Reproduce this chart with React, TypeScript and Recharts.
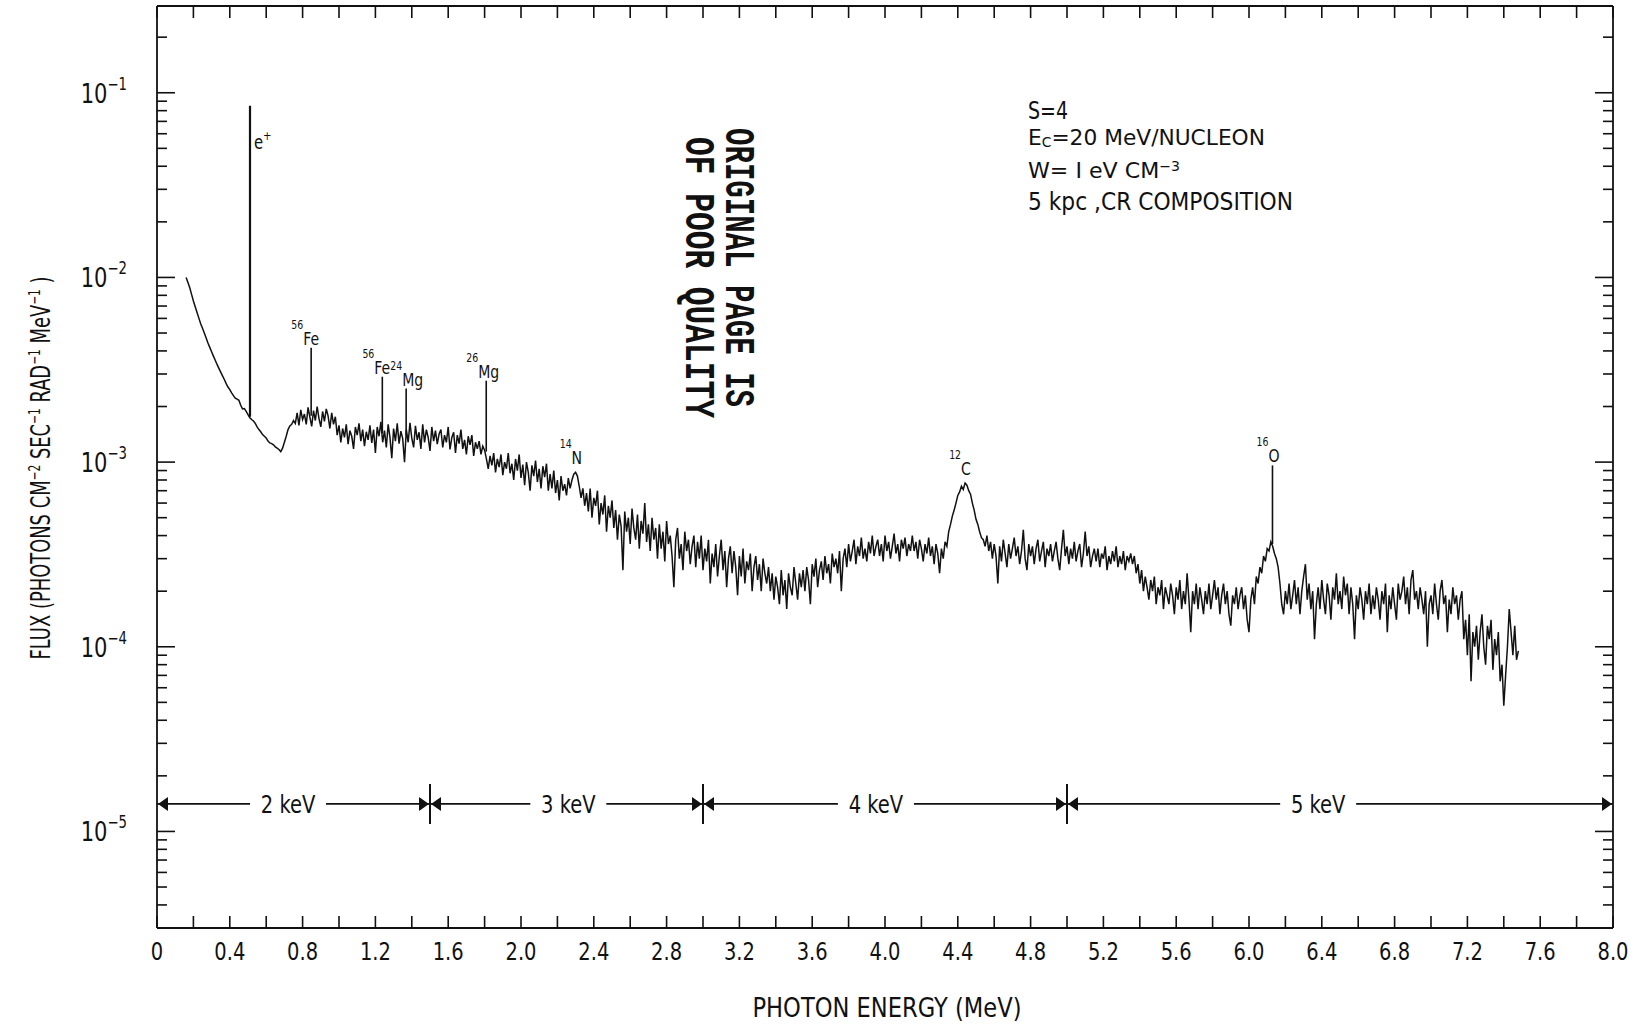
import React from "react";
import { LineChart, Line, XAxis, YAxis, ReferenceLine, ReferenceDot } from "recharts";

// channel grid of the continuum: first channel 0.16 MeV, 0.01 MeV apart
const E_START = 0.16;
const E_STEP = 0.01;

// continuum flux, in units of 1e-5 photons cm^-2 s^-1 rad^-1 MeV^-1
const continuum = [
  1000, 938, 880, 810, 745, 693, 645, 602, 562, 530, 500, 470, 442, 418, 396, 375, 356, 338, 322, 307, // 0.16
  293, 280, 266, 255, 247, 237, 229, 222, 219, 216, 203, 194, 195, 188, 181, 174, 170, 167, 162, 155, // 0.36
  150, 146, 141, 138, 135, 130, 127, 126, 124, 121, 119, 117, 114, 119, 128, 138, 150, 157, 160, 168, // 0.56
  162, 185, 158, 192, 170, 182, 160, 198, 175, 156, 190, 168, 200, 172, 155, 188, 166, 194, 178, 152, // 0.76
  185, 160, 176, 140, 158, 128, 152, 136, 160, 125, 148, 138, 118, 155, 140, 162, 130, 150, 122, 146, // 0.96
  132, 158, 127, 150, 112, 155, 138, 165, 128, 148, 120, 160, 136, 105, 152, 130, 162, 126, 147, 134, // 1.16
  100, 150, 128, 163, 135, 120, 157, 132, 145, 118, 160, 128, 150, 136, 115, 155, 130, 148, 125, 142, // 1.36
  150, 120, 140, 128, 155, 117, 136, 145, 112, 140, 126, 150, 118, 132, 110, 138, 124, 140, 108, 128, // 1.56
  118, 130, 110, 122, 116, 104, 92, 108, 96, 112, 88, 104, 94, 110, 85, 100, 92, 112, 87, 98, // 1.76
  80, 104, 90, 110, 82, 97, 75, 100, 88, 70, 96, 84, 102, 78, 92, 72, 95, 83, 98, 70, // 1.96
  86, 72, 90, 68, 80, 62, 84, 70, 76, 66, 82, 72, 80, 86, 88, 84, 74, 64, 72, 58, // 2.16
  68, 54, 72, 50, 64, 58, 70, 46, 60, 52, 66, 42, 58, 50, 62, 44, 55, 38, 52, 45, // 2.36
  26, 54, 42, 50, 36, 56, 44, 38, 52, 34, 48, 41, 60, 37, 46, 33, 50, 38, 44, 30, // 2.56
  46, 34, 42, 29, 48, 36, 40, 31, 21, 38, 44, 30, 36, 26, 42, 33, 38, 28, 35, 40, // 2.76
  27, 37, 30, 40, 26, 34, 29, 38, 22, 32, 27, 36, 24, 31, 38, 26, 33, 21, 30, 35, // 2.96
  25, 33, 27, 19, 31, 24, 34, 22, 29, 26, 32, 20, 27, 31, 23, 28, 20, 30, 25, 22, // 3.16
  27, 20, 25, 18, 24, 21, 17, 26, 19, 23, 16, 25, 21, 19, 27, 22, 18, 25, 21, 26, // 3.36
  20, 27, 23, 17, 28, 24, 30, 21, 26, 29, 23, 31, 25, 28, 22, 32, 27, 30, 25, 33, // 3.56
  20, 30, 34, 27, 36, 29, 33, 38, 28, 35, 31, 39, 30, 34, 29, 37, 32, 40, 31, 35, // 3.76
  38, 31, 36, 29, 40, 33, 37, 30, 35, 41, 32, 36, 29, 38, 34, 39, 31, 36, 33, 40, // 3.96
  33, 37, 30, 38, 34, 29, 36, 32, 39, 31, 35, 28, 36, 32, 25, 34, 30, 37, 35, 42, // 4.16
  46, 51, 55, 60, 66, 69, 74, 71, 77, 75, 70, 67, 60, 55, 49, 46, 42, 39, 38, 35, // 4.36
  40, 33, 37, 30, 36, 31, 22, 35, 29, 38, 32, 27, 36, 30, 34, 39, 31, 35, 28, 33, // 4.56
  43, 30, 26, 36, 31, 35, 28, 34, 38, 29, 33, 37, 27, 34, 31, 36, 29, 33, 37, 30, // 4.76
  26, 34, 43, 31, 35, 28, 34, 30, 37, 29, 33, 36, 27, 32, 42, 31, 35, 27, 31, 34, // 4.96
  29, 34, 27, 32, 30, 35, 26, 31, 28, 33, 29, 35, 27, 31, 28, 33, 26, 31, 29, 32, // 5.16
  28, 31, 25, 28, 22, 26, 20, 24, 21, 18, 23, 20, 24, 17, 21, 19, 23, 16, 21, 19, // 5.36
  17, 22, 19, 15, 21, 18, 23, 16, 20, 17, 25, 18, 12, 20, 17, 22, 16, 21, 18, 15, // 5.56
  20, 17, 22, 16, 19, 23, 18, 21, 15, 19, 22, 17, 20, 15, 13, 19, 17, 21, 16, 19, // 5.76
  21, 16, 19, 14, 12, 18, 21, 17, 24, 22, 27, 25, 31, 29, 34, 33, 37, 35, 32, 30, // 5.96
  27, 22, 17, 15, 20, 17, 22, 16, 19, 23, 17, 21, 15, 20, 24, 28, 18, 22, 16, 20, // 6.16
  11, 17, 21, 16, 23, 18, 15, 22, 19, 14, 21, 18, 25, 17, 20, 16, 24, 19, 22, 15, // 6.36
  21, 17, 11, 19, 16, 21, 18, 14, 20, 17, 22, 15, 19, 16, 21, 18, 14, 20, 17, 22, // 6.56
  12, 19, 16, 21, 17, 14, 22, 18, 20, 24, 17, 21, 15, 23, 26, 18, 20, 16, 21, 18, // 6.76
  15, 20, 10, 17, 19, 15, 22, 17, 14, 20, 23, 17, 19, 12, 18, 15, 21, 17, 19, 14, // 6.96
  18, 20, 11, 14, 9, 15, 6.5, 12, 10, 13, 8.5, 12, 15, 10, 8, 13, 11, 14, 7.5, 11, // 7.16
  9, 12, 6.5, 8, 4.8, 7, 10, 16, 12, 9, 13, 8.5, 9.5, // 7.36
];

// narrow gamma lines (single channel spikes), same flux units
const lineEnergy = [0.511, 0.847, 1.238, 1.369, 1.809, 6.129];
const lineBase = [176, 178, 143, 140, 114, 36];
const lineTop = [8500, 416, 290, 250, 276, 96];
const lineMass = ["", "56", "56", "24", "26", "16"];
const lineElem = ["e", "Fe", "Fe", "Mg", "Mg", "O"];

// broad peaks that carry a label
const peakEnergy = [2.3, 4.44];
const peakFlux = [88, 77];
const peakMass = ["14", "12"];
const peakElem = ["N", "C"];

// channel width bands along the bottom
const bandEdges = [0, 1.5, 3.0, 5.0, 8.0];
const bandLabels = ["2 keV", "3 keV", "4 keV", "5 keV"];
const bandLabelEnergy = [0.72, 2.26, 3.95, 6.38];
const BAND_FLUX = 1.41;

const xTicks = [
  0, 0.2, 0.4, 0.6, 0.8, 1.0, 1.2, 1.4, 1.6, 1.8, 2.0, 2.2, 2.4, 2.6, 2.8, 3.0, 3.2, 3.4, 3.6, 3.8, 4.0,
  4.2, 4.4, 4.6, 4.8, 5.0, 5.2, 5.4, 5.6, 5.8, 6.0, 6.2, 6.4, 6.6, 6.8, 7.0, 7.2, 7.4, 7.6, 7.8, 8.0,
];
const xTickLabels = ["0", "0.4", "0.8", "1.2", "1.6", "2.0", "2.4", "2.8", "3.2", "3.6", "4.0",
  "4.4", "4.8", "5.2", "5.6", "6.0", "6.4", "6.8", "7.2", "7.6", "8.0"];
const yDecades = [-6, -5, -4, -3, -2, -1];
const yMinor = [1, 2, 3, 4, 5, 6, 7, 8, 9];

const U = 1e-5;
const W = 1646;
const H = 1025;
const Y_DOMAIN = [3.0e-6, 0.295];
const FONT = "'DejaVu Sans', sans-serif";
const STAMP_FONT = "'Liberation Mono', 'DejaVu Sans Mono', monospace";
const NARROW = 0.78;
const INK = "#111";
// the 24Mg label sits a little right of its line so it clears the 56Fe one
const LABEL_NUDGE = [0, 0, 0, 4, 0, 0];

const spectrum = continuum.map((v, i) => ({
  energy: Math.round((E_START + i * E_STEP) * 100) / 100,
  flux: v * U,
}));

const yTicks = yDecades
  .flatMap((d) => yMinor.map((m) => m * Math.pow(10, d)))
  .filter((v) => v > Y_DOMAIN[0] && v < Y_DOMAIN[1]);

const fmtX = (v: number) => (v === 0 ? "0" : v.toFixed(1));
const isMajorY = (v: number) => {
  const e = Math.round(Math.log10(v));
  return Math.abs(v / Math.pow(10, e) - 1) < 1e-6;
};

const AXIS = { stroke: INK, strokeWidth: 1.8 };

// condensed lettering: DejaVu squeezed horizontally around its anchor
const Narrow = ({ x, y, size, anchor = "start", children }: any) => (
  <text
    transform={`translate(${x},${y}) scale(${NARROW},1)`}
    textAnchor={anchor}
    fontFamily={FONT}
    fontSize={size}
    fill={INK}
  >
    {children}
  </text>
);

const BottomTick = (p: any) => {
  const { x, y, payload } = p;
  const label = fmtX(payload.value);
  return (
    <g>
      <line x1={x} x2={x} y1={y} y2={y - 12} stroke={INK} strokeWidth={1.6} />
      {xTickLabels.includes(label) && (
        <Narrow x={x} y={y + 32} size={25} anchor="middle">{label}</Narrow>
      )}
    </g>
  );
};

const TopTick = (p: any) => (
  <line x1={p.x} x2={p.x} y1={p.y} y2={p.y + 12} stroke={INK} strokeWidth={1.6} />
);

const LeftTick = (p: any) => {
  const { x, y, payload } = p;
  const major = isMajorY(payload.value);
  const exp = Math.round(Math.log10(payload.value));
  return (
    <g>
      <line x1={x} x2={x + (major ? 18 : 10)} y1={y} y2={y} stroke={INK} strokeWidth={1.6} />
      {major && (
        <Narrow x={x - 30} y={y + 10} size={27} anchor="end">
          10
          <tspan dy={-13} fontSize={17}>{"\u2212" + -exp}</tspan>
        </Narrow>
      )}
    </g>
  );
};

const RightTick = (p: any) => {
  const { x, y, payload } = p;
  const major = isMajorY(payload.value);
  return <line x1={x} x2={x - (major ? 18 : 10)} y1={y} y2={y} stroke={INK} strokeWidth={1.6} />;
};

const isotope = (mass: string, elem: string, drop: number, nudge: number) => (p: any) => {
  const { cx, cy } = p;
  if (elem === "e") {
    return (
      <Narrow x={cx + 4} y={cy + 43} size={19}>
        e<tspan dy={-9} fontSize={13}>+</tspan>
      </Narrow>
    );
  }
  const left = cx - 4 * elem.length + nudge;
  return (
    <g>
      <Narrow x={left} y={cy - 16 - drop} size={12} anchor="end">{mass}</Narrow>
      <Narrow x={left} y={cy - drop} size={18}>{elem}</Narrow>
    </g>
  );
};

const bandEdge = (idx: number) => (p: any) => {
  const { cx, cy } = p;
  const last = bandEdges.length - 1;
  return (
    <g>
      {idx > 0 && idx < last && (
        <line x1={cx} x2={cx} y1={cy - 20} y2={cy + 20} stroke={INK} strokeWidth={2} />
      )}
      {idx > 0 && (
        <polygon points={`${cx - 1},${cy} ${cx - 11},${cy - 7} ${cx - 11},${cy + 7}`} fill={INK} />
      )}
      {idx < last && (
        <polygon points={`${cx + 1},${cy} ${cx + 11},${cy - 7} ${cx + 11},${cy + 7}`} fill={INK} />
      )}
    </g>
  );
};

const bandLabel = (text: string) => (p: any) => {
  const { cx, cy } = p;
  return (
    <g>
      <rect x={cx - 38} y={cy - 13} width={76} height={26} fill="#fff" />
      <Narrow x={cx} y={cy + 9} size={25} anchor="middle">{text}</Narrow>
    </g>
  );
};

const Sup = ({ t }: { t: string }) => (
  <>
    <tspan dy={-10} fontSize={16}>{t}</tspan>
    <tspan dy={10}> </tspan>
  </>
);

export default function App() {
  return (
    <div style={{ position: "absolute", left: 0, top: 0, width: W, height: H, background: "#fff" }}>
      <LineChart width={W} height={H} data={spectrum} margin={{ top: 0, right: 0, bottom: 0, left: 0 }}>
        <XAxis
          type="number"
          dataKey="energy"
          domain={[0, 8]}
          ticks={xTicks}
          interval={0}
          height={97}
          tickSize={0}
          tickMargin={0}
          tickLine={false}
          axisLine={AXIS}
          tick={(p: any) => <BottomTick {...p} />}
          allowDataOverflow
        />
        <XAxis
          xAxisId="top"
          orientation="top"
          type="number"
          dataKey="energy"
          domain={[0, 8]}
          ticks={xTicks}
          interval={0}
          height={6}
          tickSize={0}
          tickMargin={0}
          tickLine={false}
          axisLine={AXIS}
          tick={(p: any) => <TopTick {...p} />}
          allowDataOverflow
        />
        <YAxis
          type="number"
          scale="log"
          domain={Y_DOMAIN}
          ticks={yTicks}
          interval={0}
          width={157}
          tickSize={0}
          tickMargin={0}
          tickLine={false}
          axisLine={AXIS}
          tick={(p: any) => <LeftTick {...p} />}
          allowDataOverflow
        />
        <YAxis
          yAxisId="right"
          orientation="right"
          type="number"
          scale="log"
          domain={Y_DOMAIN}
          ticks={yTicks}
          interval={0}
          width={33}
          tickSize={0}
          tickMargin={0}
          tickLine={false}
          axisLine={AXIS}
          tick={(p: any) => <RightTick {...p} />}
          allowDataOverflow
        />
        <Line
          dataKey="flux"
          type="linear"
          stroke={INK}
          strokeWidth={1.5}
          dot={false}
          activeDot={false}
          isAnimationActive={false}
        />
        <Line
          xAxisId="top"
          yAxisId="right"
          dataKey="flux"
          stroke="none"
          dot={false}
          activeDot={false}
          isAnimationActive={false}
        />
        {lineEnergy.map((e, i) => (
          <ReferenceLine
            key={"l" + i}
            segment={[{ x: e, y: lineBase[i] * U }, { x: e, y: lineTop[i] * U }]}
            stroke={INK}
            strokeWidth={i === 0 ? 2.2 : 1.6}
            ifOverflow="visible"
          />
        ))}
        {lineEnergy.map((e, i) => (
          <ReferenceDot
            key={"ll" + i}
            x={e}
            y={lineTop[i] * U}
            r={1}
            ifOverflow="visible"
            shape={isotope(lineMass[i], lineElem[i], 3, LABEL_NUDGE[i])}
          />
        ))}
        {peakEnergy.map((e, i) => (
          <ReferenceDot
            key={"pl" + i}
            x={e}
            y={peakFlux[i] * U}
            r={1}
            ifOverflow="visible"
            shape={isotope(peakMass[i], peakElem[i], 8, 0)}
          />
        ))}
        <ReferenceLine
          segment={[{ x: bandEdges[0], y: BAND_FLUX * U }, { x: bandEdges[bandEdges.length - 1], y: BAND_FLUX * U }]}
          stroke={INK}
          strokeWidth={1.6}
          ifOverflow="visible"
        />
        {bandEdges.map((e, i) => (
          <ReferenceDot key={"be" + i} x={e} y={BAND_FLUX * U} r={1} ifOverflow="visible" shape={bandEdge(i)} />
        ))}
        {bandLabels.map((t, i) => (
          <ReferenceDot
            key={"bl" + i}
            x={bandLabelEnergy[i]}
            y={BAND_FLUX * U}
            r={1}
            ifOverflow="visible"
            shape={bandLabel(t)}
          />
        ))}
      </LineChart>
      <svg
        width={W}
        height={H}
        style={{ position: "absolute", left: 0, top: 0, pointerEvents: "none" }}
        fontFamily={FONT}
        fill={INK}
      >
        <text x={887} y={1017} textAnchor="middle" fontSize={27} textLength={269} lengthAdjust="spacingAndGlyphs">
          PHOTON  ENERGY  (MeV)
        </text>
        <text
          transform="translate(50,468) rotate(-90)"
          textAnchor="middle"
          fontSize={27}
          textLength={383}
          lengthAdjust="spacingAndGlyphs"
        >
          FLUX  (PHOTONS  CM<Sup t={"\u22122"} />SEC<Sup t={"\u22121"} />RAD<Sup t={"\u22121"} />MeV
          <tspan dy={-10} fontSize={16}>{"\u22121"}</tspan>
          <tspan dy={10}> )</tspan>
        </text>
        <text x={1028} y={119} fontSize={24} textLength={40} lengthAdjust="spacingAndGlyphs">S=4</text>
        <text x={1028} y={145} fontSize={22} textLength={237} lengthAdjust="spacingAndGlyphs">
          E<tspan dy={2} fontSize={14}>C</tspan>
          <tspan dy={-2}>=20  MeV/NUCLEON</tspan>
        </text>
        <text x={1028} y={178} fontSize={22} textLength={152} lengthAdjust="spacingAndGlyphs">
          W= I eV  CM<tspan dy={-7} fontSize={14}>{"\u22123"}</tspan>
        </text>
        <text x={1028} y={210} fontSize={24} textLength={265} lengthAdjust="spacingAndGlyphs">
          5 kpc ,CR  COMPOSITION
        </text>
        <text
          transform="translate(726,128) rotate(90)"
          fontFamily={STAMP_FONT}
          fontWeight="bold"
          fontSize={42}
          textLength={279}
          lengthAdjust="spacingAndGlyphs"
        >
          ORIGINAL PAGE IS
        </text>
        <text
          transform="translate(686,137) rotate(90)"
          fontFamily={STAMP_FONT}
          fontWeight="bold"
          fontSize={42}
          textLength={281}
          lengthAdjust="spacingAndGlyphs"
        >
          OF POOR QUALITY
        </text>
      </svg>
    </div>
  );
}
